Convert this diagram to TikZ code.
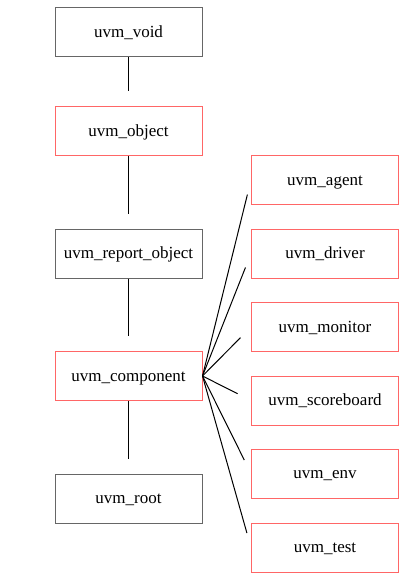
\documentclass[tikz,border=0pt]{standalone}
\usepackage{fontspec}
\setmainfont{Liberation Serif}
\usetikzlibrary{calc}
\definecolor{boxgray}{HTML}{666666}
\definecolor{boxred}{HTML}{FF6666}
\tikzset{
	uvmbox/.style={draw, line width=1pt, minimum width=147pt, minimum height=49pt, inner sep=0pt, text height=13pt, text depth=2.5pt, font=\fontsize{17}{20}\selectfont},
	basebox/.style={uvmbox, draw=boxgray},
	compbox/.style={uvmbox, draw=boxred},
	edge/.style={-, line width=1pt, shorten >=15pt}
}
\begin{document}
\begin{tikzpicture}[x=1pt, y=-1pt]
		\useasboundingbox (0,0) rectangle (411,580);
		
		% left column
		\node[basebox] (void) at (128.5,32.5) {uvm\_void};
		\node[compbox] (object) at (128.5,131) {uvm\_object};
		\node[basebox] (report) at (128.5,253.5) {uvm\_report\_object};
		\node[compbox] (component) at (128.5,376) {uvm\_component};
		\node[basebox] (root) at (128.5,498.5) {uvm\_root};
		
		% right column
		\node[compbox] (agent) at (325,180) {uvm\_agent};
		\node[compbox] (driver) at (325,253.5) {uvm\_driver};
		\node[compbox] (monitor) at (325,327) {uvm\_monitor};
		\node[compbox] (scoreboard) at (325,400.5) {uvm\_scoreboard};
		\node[compbox] (env) at (325,473.5) {uvm\_env};
		\node[compbox] (test) at (325,547.5) {uvm\_test};
		
		% edges
		\draw[edge] (void.south) -- (object.north);
		\draw[edge] (object.south) -- (report.north);
		\draw[edge] (report.south) -- (component.north);
		\draw[edge] (component.south) -- (root.north);
		
		\draw[edge] (component.east) -- (agent.west);
		\draw[edge] (component.east) -- (driver.west);
		\draw[edge] (component.east) -- (monitor.west);
		\draw[edge] (component.east) -- (scoreboard.west);
		\draw[edge] (component.east) -- (env.west);
		\draw[edge] (component.east) -- (test.west);
		
		\end{tikzpicture}
\end{document}
